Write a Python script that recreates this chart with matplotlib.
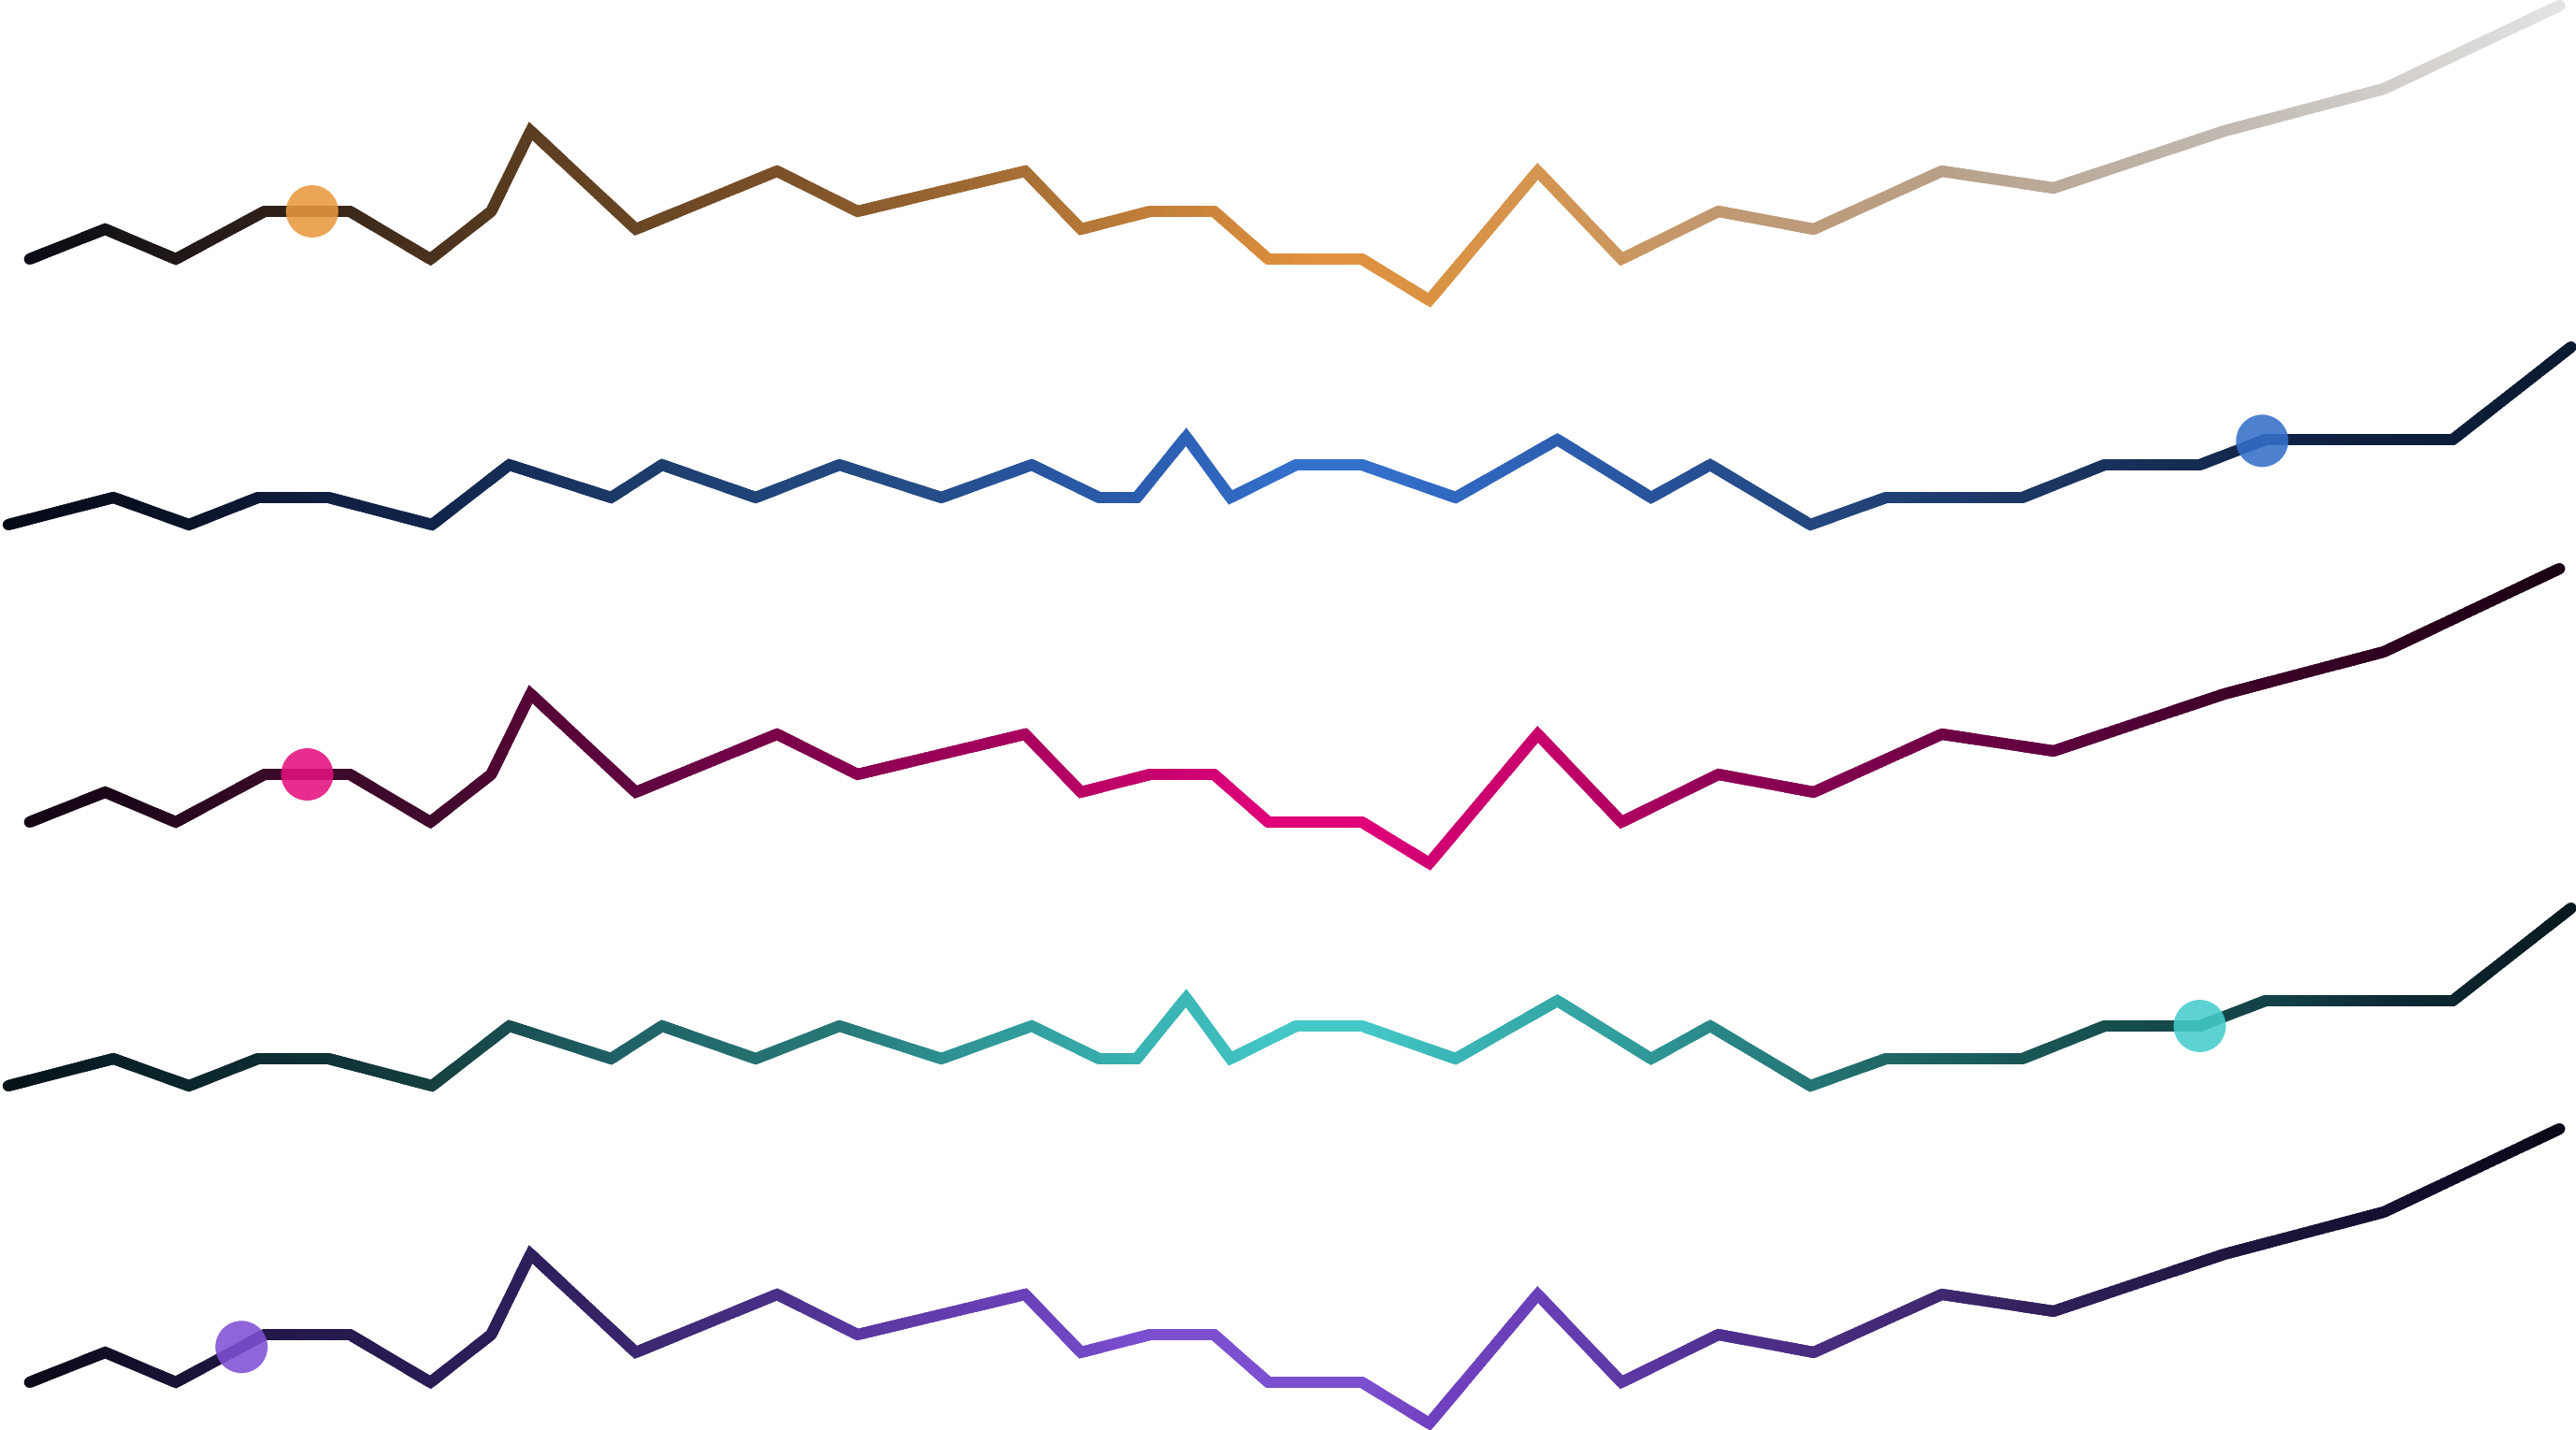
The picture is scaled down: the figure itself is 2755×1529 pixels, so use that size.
import numpy as np
import matplotlib
matplotlib.use("Agg")
import matplotlib.pyplot as plt
from matplotlib.collections import LineCollection
from matplotlib.colors import LinearSegmentedColormap

# ---------------- data ----------------
# series A (rows 1, 3, 5)
a_x = [18, 64, 107, 161, 213, 262, 299, 323, 387, 473, 522, 624, 658, 700,
       739, 772, 829, 870, 936, 987, 1046, 1104, 1182, 1250, 1354, 1451, 1558]
a_y = [0, 32, 0, 51, 51, 0, 51, 137, 32, 94, 51, 94, 32, 51,
       51, 0, 0, -44, 94, 0, 51, 32, 94, 76, 137, 182, 271]

# series B (rows 2, 4)
b_x = [5, 69, 115, 157, 200, 263, 310, 372, 403, 460, 511, 573, 628, 669,
       692, 722, 749, 789, 829, 886, 948, 1005, 1041, 1102, 1148, 1231,
       1281, 1339, 1379, 1493, 1565]
b_y = [0, 29, 0, 29, 29, 0, 64, 29, 64, 29, 64, 29, 64, 29,
       29, 94, 29, 64, 64, 29, 91, 29, 64, 0, 29, 29,
       64, 64, 91, 91, 190]

# highlighted positions (x) per row
marker_x = [190, 1377, 187, 1339, 147]

# ---------------- styles ----------------
W, H, DPI = 2755, 1529, 100
LW = 12 * 72 / DPI
MS = (56 * 72 / DPI) ** 2
baselines = [277, 561, 879, 1161, 1478]

pal_orange = [(0.0, '#0a0c16'), (0.094, '#2e2018'), (0.195, '#5a3d20'),
              (0.295, '#7a5028'), (0.394, '#a87035'), (0.49, '#d88c3c'),
              (0.51, '#e2923f'), (0.553, '#da9242'), (0.597, '#d49550'),
              (0.668, '#c09870'), (0.756, '#b8a088'), (0.868, '#c0b8b0'),
              (0.93, '#d0ccc8'), (1.0, '#e2e2e2')]
pal_blue = [(0.0, '#050a18'), (0.07, '#0a1428'), (0.12, '#0f1f40'),
            (0.165, '#10244a'), (0.2, '#162e58'), (0.24, '#1c3a68'),
            (0.29, '#204478'), (0.365, '#254e8a'), (0.4, '#2855a0'),
            (0.43, '#2a5aa8'), (0.46, '#2e62b8'), (0.5, '#3370cc'),
            (0.53, '#3370cc'), (0.565, '#3068c0'), (0.605, '#2c5fb0'),
            (0.64, '#28549c'), (0.665, '#264e90'), (0.7, '#234880'),
            (0.76, '#1e3c6c'), (0.83, '#183058'), (0.9, '#0f2244'),
            (1.0, '#0a1a30')]
pal_magenta = [(0.0, '#150515'), (0.03, '#1a0518'), (0.1, '#3a0a2a'),
               (0.158, '#3f0a2c'), (0.198, '#550535'), (0.24, '#600540'),
               (0.295, '#7a0048'), (0.327, '#8a0050'), (0.39, '#a8005e'),
               (0.416, '#b80065'), (0.455, '#cc0070'), (0.49, '#e0007a'),
               (0.53, '#e0007a'), (0.553, '#d00072'), (0.596, '#c8006c'),
               (0.63, '#b00062'), (0.667, '#900055'), (0.705, '#850050'),
               (0.756, '#700045'), (0.8, '#600040'), (0.867, '#40002a'),
               (0.93, '#300020'), (1.0, '#1a0012')]
pal_teal = [(0.0, '#051218'), (0.04, '#082028'), (0.12, '#0e3035'),
            (0.165, '#15403f'), (0.2, '#1a5055'), (0.235, '#1e6065'),
            (0.29, '#257070'), (0.325, '#287878'), (0.365, '#2e9090'),
            (0.4, '#32a0a0'), (0.435, '#38b0b0'), (0.46, '#3cb8b8'),
            (0.5, '#45c8c8'), (0.53, '#45c8c8'), (0.565, '#3ab5b5'),
            (0.605, '#35a8a8'), (0.64, '#309898'), (0.665, '#2a8888'),
            (0.7, '#257878'), (0.73, '#206868'), (0.785, '#1a5858'),
            (0.84, '#154a4a'), (0.89, '#124048'), (0.93, '#0f2a35'),
            (1.0, '#081a20')]
pal_purple = [(0.0, '#0a0a18'), (0.1, '#24184a'), (0.198, '#2e1e5a'),
              (0.295, '#4a3088'), (0.327, '#5a38a0'), (0.39, '#6a40b8'),
              (0.44, '#7b4fd0'), (0.53, '#7b4fd0'), (0.553, '#7040c0'),
              (0.596, '#6a40b8'), (0.667, '#503090'), (0.705, '#4a2c80'),
              (0.756, '#402870'), (0.8, '#302058'), (0.867, '#201640'),
              (0.93, '#151030'), (1.0, '#0a0818')]

rows = [
    (a_x, a_y, pal_orange, '#e9993f'),
    (b_x, b_y, pal_blue, '#3470ca'),
    (a_x, a_y, pal_magenta, '#e4107f'),
    (b_x, b_y, pal_teal, '#45cccc'),
    (a_x, a_y, pal_purple, '#8050d4'),
]


def draw_gradient_line(ax, xs, ys, cmap, lw, n_sub=30, z=2):
    xs = np.asarray(xs, float)
    ys = np.asarray(ys, float)
    span = xs[-1] - xs[0]
    tof = lambda x: (x - xs[0]) / span
    segs, cols = [], []
    for i in range(len(xs) - 1):
        x0, y0, x1, y1 = xs[i], ys[i], xs[i + 1], ys[i + 1]
        for k in range(n_sub):
            f0 = k / n_sub
            f1 = min((k + 1.6) / n_sub, 1.0)
            p0 = (x0 + (x1 - x0) * f0, y0 + (y1 - y0) * f0)
            p1 = (x0 + (x1 - x0) * f1, y0 + (y1 - y0) * f1)
            segs.append([p0, p1])
            cols.append(cmap(tof((p0[0] + p1[0]) / 2)))
    # joins underneath
    jsegs, jcols = [], []
    f = 0.3
    for i in range(1, len(xs) - 1):
        pa = (xs[i] + (xs[i - 1] - xs[i]) * f, ys[i] + (ys[i - 1] - ys[i]) * f)
        pb = (xs[i] + (xs[i + 1] - xs[i]) * f, ys[i] + (ys[i + 1] - ys[i]) * f)
        jsegs.append([pa, (xs[i], ys[i]), pb])
        jcols.append(cmap(tof(xs[i])))
    ax.add_collection(LineCollection(jsegs, colors=jcols, linewidths=lw,
                                     capstyle='butt', joinstyle='miter',
                                     zorder=z - 0.2))
    # round ends
    e = 0.2
    esegs = [[(xs[0], ys[0]), (xs[0] + (xs[1] - xs[0]) * e, ys[0] + (ys[1] - ys[0]) * e)],
             [(xs[-1], ys[-1]), (xs[-1] + (xs[-2] - xs[-1]) * e, ys[-1] + (ys[-2] - ys[-1]) * e)]]
    ax.add_collection(LineCollection(esegs, colors=[cmap(0.0), cmap(1.0)],
                                     linewidths=lw, capstyle='round',
                                     zorder=z - 0.1))
    ax.add_collection(LineCollection(segs, colors=cols, linewidths=lw,
                                     capstyle='butt', joinstyle='miter',
                                     zorder=z))


fig = plt.figure(figsize=(W / DPI, H / DPI), dpi=DPI)
fig.patch.set_facecolor('white')

for (xs, ys, pal, mcol), base, mx in zip(rows, baselines, marker_x):
    ax = fig.add_axes([0, 0, 1, 1])
    ax.set_xlim(0, 1568)
    ax.set_ylim(base - H, base)
    ax.axis('off')
    cmap = LinearSegmentedColormap.from_list('g', pal)
    draw_gradient_line(ax, xs, ys, cmap, LW)
    my = np.interp(mx, xs, ys)
    ax.scatter([mx], [my], s=MS, color=mcol, alpha=0.88,
               edgecolors='none', zorder=5)

fig.savefig('out.png', dpi=DPI, facecolor='white')
